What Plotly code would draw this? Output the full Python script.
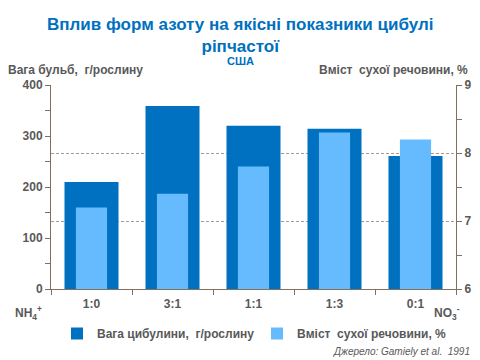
import plotly.graph_objects as go

categories = ["1:0", "3:1", "1:1", "1:3", "0:1"]
weight = [210, 359, 320, 314, 261]
dry_matter = [7.2, 7.4, 7.8, 8.3, 8.2]

DARK = "#0070C0"
LIGHT = "#66BBFF"
AX = "#7F7060"
TXT = "#595959"
FONT = "Liberation Sans, Arial, sans-serif"

# page body has an 8px margin; figure placed at (8, 8)
OFF = 8
W, H = 480 - OFF, 360 - OFF
# plot area in window pixels: x 51..456, y 85..289
L, R, T, B = 51 - OFF, 480 - 456, 85 - OFF, 360 - 289
PW, PH = W - L - R, H - T - B


def px(x):
    return (x - OFF - L) / PW


def py(y):
    return (H - B - (y - OFF)) / PH


fig = go.Figure()
fig.add_trace(go.Bar(x=categories, y=weight, name="Вага цибулини,  г/рослину",
                     marker=dict(color=DARK, line=dict(width=0)), width=0.667, yaxis="y"))
fig.add_trace(go.Bar(x=categories, y=dry_matter, name="Вміст  сухої речовини, %",
                     marker=dict(color=LIGHT, line=dict(width=0)), width=0.385, yaxis="y2"))

bold12 = dict(size=12, color=TXT, family=FONT, weight="bold")

fig.update_layout(
    width=W, height=H,
    margin=dict(l=L, r=R, t=T, b=B, autoexpand=False),
    paper_bgcolor="white", plot_bgcolor="white",
    barmode="overlay",
    font=dict(family=FONT, color=TXT, size=12),
    showlegend=True,
    legend=dict(orientation="h", x=px(57), xanchor="left", y=py(319), yanchor="top",
                font=bold12, itemwidth=30, traceorder="normal",
                entrywidthmode="pixels", entrywidth=155, tracegroupgap=0,
                bgcolor="rgba(0,0,0,0)"),
    xaxis=dict(showline=True, linecolor=AX, linewidth=1, tickson="boundaries",
               ticks="outside", ticklen=5, tickcolor=AX, automargin=False,
               ticklabelstandoff=4, tickfont=bold12, showgrid=False),
    yaxis=dict(range=[0, 400], dtick=100, showline=True, linecolor=AX, linewidth=1,
               ticks="outside", ticklen=5, tickcolor=AX, showgrid=False, zeroline=False,
               automargin=False,
               minor=dict(dtick=50, ticks="outside", ticklen=5, tickcolor=AX, showgrid=False),
               tickfont=bold12),
    yaxis2=dict(range=[6, 9], dtick=1, overlaying="y", side="right", showline=True,
                linecolor=AX, linewidth=1, ticks="outside", ticklen=5, tickcolor=AX,
                showgrid=True, gridcolor="#A89C90", griddash="3px,2px", gridwidth=1,
                zeroline=False, automargin=False,
                minor=dict(dtick=0.5, ticks="outside", ticklen=5, tickcolor=AX, showgrid=False),
                tickfont=bold12),
)

anns = [
    dict(text="Вплив форм азоту на якісні показники цибулі<br>ріпчастої",
         x=px(240), y=py(36), font=dict(size=17, color=DARK, family=FONT, weight="bold")),
    dict(text="США", x=px(240), y=py(61), font=dict(size=11, color=DARK, family=FONT, weight="bold")),
    dict(text="Вага бульб,  г/рослину", x=px(6), y=py(70), xanchor="left", font=bold12),
    dict(text="Вміст  сухої речовини, %", x=px(470), y=py(70), xanchor="right", font=bold12),
    dict(text="NH<sub>4</sub><sup>+</sup>", x=px(28), y=py(313), font=bold12),
    dict(text="NO<sub>3</sub><sup>-</sup>", x=px(447), y=py(313), font=bold12),
    dict(text="Джерело: Gamiely et al.  1991", x=px(472), y=py(351), xanchor="right",
         font=dict(size=10, color=TXT, family=FONT, style="italic")),
]
for a in anns:
    a.setdefault("xanchor", "center")
    a.update(xref="paper", yref="paper", yanchor="middle", showarrow=False)
fig.update_layout(annotations=anns)

fig.write_html("out.html")
